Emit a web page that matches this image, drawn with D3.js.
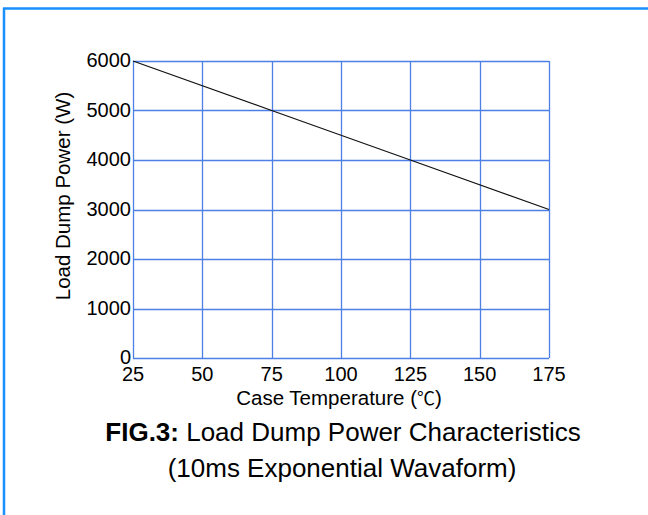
<!DOCTYPE html>
<html>
<head>
<meta charset="utf-8">
<script src="https://cdn.jsdelivr.net/npm/d3@7/dist/d3.min.js"></script>
<style>
  body { margin: 0; background: #fff; }
  svg text { font-family: "Liberation Sans", Arial, sans-serif; fill: #000; }
</style>
</head>
<body>
<svg id="chart" width="648" height="515"></svg>
<script>
// values
var temps  = [25, 75, 125, 175];
var powers = [6000, 5000, 4000, 3000];

var xTicks = [25, 50, 75, 100, 125, 150, 175];
var yTicks = [0, 1000, 2000, 3000, 4000, 5000, 6000];

var svg = d3.select('#chart');

// frame
svg.append('line')
    .attr('x1', 3).attr('y1', 8.5).attr('x2', 648).attr('y2', 8.5)
    .attr('stroke', '#1a8fff').attr('stroke-width', 2.5);
svg.append('line')
    .attr('x1', 4).attr('y1', 8).attr('x2', 4).attr('y2', 515)
    .attr('stroke', '#1a8fff').attr('stroke-width', 2.5);

var x = d3.scaleLinear().domain([25, 175]).range([133, 549]);
var y = d3.scaleLinear().domain([0, 6000]).range([358, 61]);

var grid = svg.append('g').attr('class', 'grid');
grid.selectAll('.vx')
    .data(xTicks)
    .enter()
        .append('line')
        .attr('x1', function(d) { return Math.round(x(d)) + 0.5 })
        .attr('x2', function(d) { return Math.round(x(d)) + 0.5 })
        .attr('y1', y(0))
        .attr('y2', y(6000))
        .attr('stroke', '#4d7fe6')
        .attr('stroke-width', 1.3);
grid.selectAll('.hy')
    .data(yTicks)
    .enter()
        .append('line')
        .attr('y1', function(d) { return Math.round(y(d)) + 0.5 })
        .attr('y2', function(d) { return Math.round(y(d)) + 0.5 })
        .attr('x1', x(25))
        .attr('x2', x(175))
        .attr('stroke', '#4d7fe6')
        .attr('stroke-width', 1.3);

// tick labels
svg.selectAll('.ylab')
    .data(yTicks)
    .enter()
        .append('text')
        .attr('x', 131)
        .attr('y', function(d) { return y(d) + 6 })
        .attr('text-anchor', 'end')
        .style('font-size', '20px')
        .text(function(d) { return d });

svg.selectAll('.xlab')
    .data(xTicks)
    .enter()
        .append('text')
        .attr('x', function(d) { return x(d) })
        .attr('y', 381)
        .attr('text-anchor', 'middle')
        .style('font-size', '20px')
        .text(function(d) { return d });

// curve
var line = d3.line()
    .x(function(d, i) { return x(temps[i]) })
    .y(function(d) { return y(d) });

svg.append('path')
    .datum(powers)
    .attr('d', line)
    .attr('fill', 'none')
    .attr('stroke', '#111')
    .attr('stroke-width', 1.2);

// axis titles
var xt = svg.append('text')
    .attr('x', 339)
    .attr('y', 405)
    .attr('text-anchor', 'middle')
    .style('font-size', '20.5px');
xt.append('tspan').text('Case Temperature (');
xt.append('tspan').style('font-family', '"Noto Sans CJK SC", sans-serif').style('font-size', '18px').text('\u2103');
xt.append('tspan').text(')');

svg.append('text')
    .attr('transform', 'translate(70,196) rotate(-90)')
    .attr('text-anchor', 'middle')
    .style('font-size', '20.5px')
    .text('Load Dump Power (W)');

// caption
var cap = svg.append('text')
    .attr('x', 343)
    .attr('y', 441)
    .attr('text-anchor', 'middle')
    .style('font-size', '26px');
cap.append('tspan').style('font-weight', 'bold').text('FIG.3:');
cap.append('tspan').text(' Load Dump Power Characteristics');

svg.append('text')
    .attr('x', 342)
    .attr('y', 477)
    .attr('text-anchor', 'middle')
    .style('font-size', '26px')
    .text('(10ms Exponential Wavaform)');
</script>
</body>
</html>
